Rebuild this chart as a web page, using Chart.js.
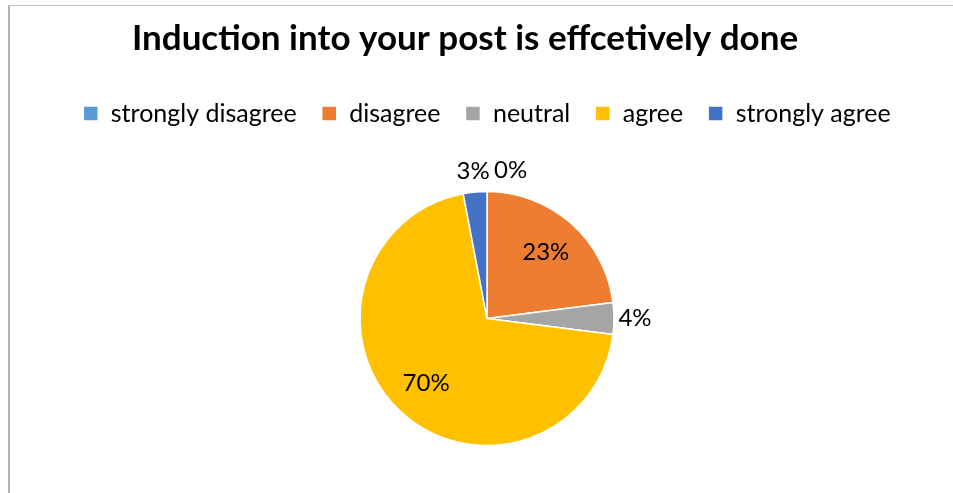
<!DOCTYPE html>
<html>
<head>
<meta charset="utf-8">
<title>Induction into your post</title>
<script src="https://cdn.jsdelivr.net/npm/chart.js@4.4.0/dist/chart.umd.min.js"></script>
<style>
  html, body { margin: 0; padding: 0; background: #fff; overflow: hidden; }
  #frame {
    position: absolute; left: 8px; top: 5px; width: 1000px; height: 600px;
    border-left: 2px solid #b4b4b4; border-top: 1px solid #bdbdbd;
  }
  #wrap { position: absolute; left: 0; top: 0; width: 953px; height: 514px; }
</style>
</head>
<body>
<div id="frame"></div>
<div id="wrap"><canvas id="pie"></canvas></div>
<script>
'use strict';

// ── Data ──────────────────────────────────────────────────────
const TITLE      = 'Induction into your post is effcetively done';
const CATEGORIES = ['strongly disagree', 'disagree', 'neutral', 'agree', 'strongly agree'];
const PERCENTS   = [0, 23, 4, 70, 3];

// ── Theme ─────────────────────────────────────────────────────
const SLICE_COLORS = ['#5b9bd5', '#ed7d31', '#a5a5a5', '#ffc000', '#4472c4'];
const FONT = "Lato, 'Open Sans', sans-serif";

// Title drawn left of the plot centre, like the office chart it came from
const titlePlugin = {
  id: 'offsetTitle',
  afterDraw(chart) {
    const { ctx } = chart;
    ctx.save();
    ctx.font = `bold 35px ${FONT}`;
    ctx.fillStyle = '#000';
    ctx.textAlign = 'center';
    ctx.textBaseline = 'middle';
    ctx.fillText(TITLE, 465, 39);
    ctx.restore();
  },
};

// Percent labels: inside for big slices, just outside for small ones
const sliceLabels = {
  id: 'sliceLabels',
  afterDatasetsDraw(chart) {
    const { ctx } = chart;
    const meta = chart.getDatasetMeta(0);
    ctx.save();
    ctx.font = `24px ${FONT}`;
    ctx.fillStyle = '#000';
    ctx.textBaseline = 'middle';
    meta.data.forEach((arc, i) => {
      const { x, y, startAngle, endAngle, outerRadius } =
        arc.getProps(['x', 'y', 'startAngle', 'endAngle', 'outerRadius'], true);
      const v = PERCENTS[i];
      const mid = (startAngle + endAngle) / 2;
      const r = v >= 10 ? outerRadius * 0.7 : outerRadius + 21;
      let px = x + Math.cos(mid) * r;
      const py = y + Math.sin(mid) * r;
      ctx.textAlign = 'center';
      if (v === 0) { ctx.textAlign = 'left'; px += 7; }
      ctx.fillText(v + '%', px, py);
    });
    ctx.restore();
  },
};

new Chart(document.getElementById('pie'), {
  type: 'pie',
  data: {
    labels: CATEGORIES,
    datasets: [{
      data: PERCENTS,
      backgroundColor: SLICE_COLORS,
      borderColor: '#ffffff',
      borderWidth: 1.5,
      radius: 127,
    }],
  },
  options: {
    responsive: true,
    maintainAspectRatio: false,
    animation: false,
    layout: { padding: { top: 76, left: 21, right: 0, bottom: 13 } },
    plugins: {
      title: { display: false },
      tooltip: { enabled: false },
      legend: {
        position: 'top',
        labels: {
          color: '#000',
          font: { family: FONT, size: 25 },
          boxWidth: 15,
          boxHeight: 15,
          padding: 25,
        },
      },
    },
  },
  plugins: [titlePlugin, sliceLabels],
});
</script>
</body>
</html>
